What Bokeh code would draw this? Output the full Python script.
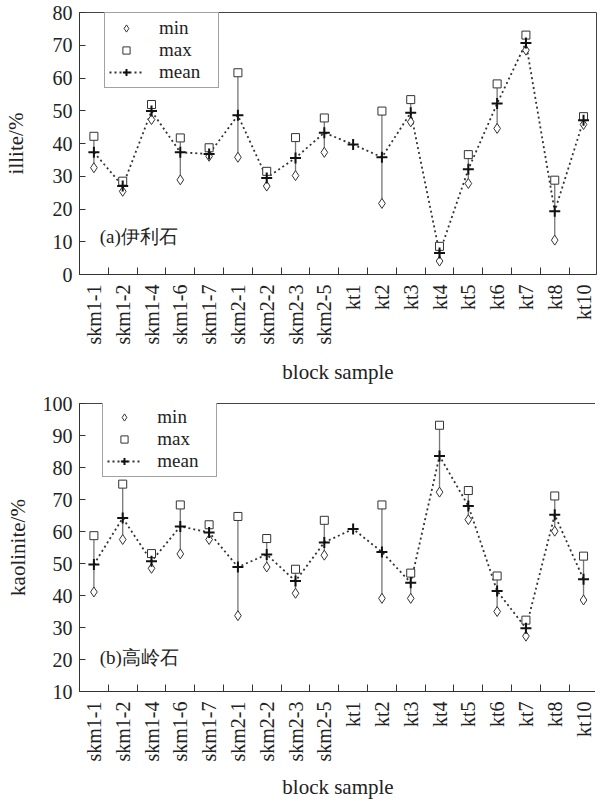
import math
from bokeh.plotting import figure
from bokeh.models import FixedTicker, Legend, LegendItem, Label, Range1d, ColumnDataSource
from bokeh.layouts import column
from bokeh.embed import file_html
from bokeh.resources import INLINE

NAN = float("nan")

samples = ["skm1-1", "skm1-2", "skm1-4", "skm1-6", "skm1-7", "skm2-1", "skm2-2", "skm2-3",
           "skm2-5", "kt1", "kt2", "kt3", "kt4", "kt5", "kt6", "kt7", "kt8", "kt10"]

illite_min = [32.6, 25.4, 47.3, 28.9, 36.1, 35.8, 27.0, 30.2, 37.3, NAN, 21.7, 46.6, 4.1, 27.8, 44.6, 68.5, 10.5, 45.8]
illite_max = [42.2, 28.5, 51.9, 41.7, 38.7, 61.6, 31.5, 41.8, 47.8, NAN, 49.9, 53.4, 8.6, 36.6, 58.2, 73.1, 28.8, 48.2]
illite_mean = [37.3, 27.0, 49.9, 37.3, 36.8, 48.6, 29.5, 35.6, 43.3, 39.7, 35.8, 49.4, 6.6, 32.1, 52.2, 70.7, 19.3, 47.1]

kaol_min = [41.1, 57.5, 48.5, 53.0, 57.5, 33.7, 48.9, 40.7, 52.6, NAN, 39.1, 39.1, 72.3, 63.7, 35.0, 27.3, 60.1, 38.6]
kaol_max = [58.7, 74.8, 53.1, 68.3, 62.1, 64.7, 57.8, 48.2, 63.5, NAN, 68.3, 47.0, 93.2, 72.8, 46.1, 32.3, 71.1, 52.3]
kaol_mean = [49.7, 64.2, 50.7, 61.6, 59.7, 48.9, 52.8, 44.5, 56.6, 60.8, 53.6, 44.0, 83.6, 68.0, 41.4, 29.8, 65.2, 45.1]

illite_ticks = list(range(0, 81, 10))
kaol_ticks = list(range(10, 101, 10))

FONT = "'Liberation Serif', 'Times New Roman', serif"
INK = "#222222"


def panel(mins, maxs, means, ymin, ymax, yticks, ylabel, tag, frame_h, top_border,
          y_title_standoff, x_label_standoff, x_title_standoff, legend_y, tag_y):
    n = len(samples)
    xs = list(range(1, n + 1))
    src = ColumnDataSource(dict(x=xs, lo=mins, hi=maxs, mean=means))
    p = figure(frame_width=517, frame_height=frame_h,
               x_range=Range1d(0.5, n + 0.45), y_range=Range1d(ymin, ymax),
               output_backend="svg", toolbar_location=None,
               min_border_left=73, min_border_right=1, min_border_top=top_border,
               min_border_bottom=5)
    p.xgrid.visible = False
    p.ygrid.visible = False
    p.outline_line_color = "#444444"
    p.background_fill_color = "white"
    p.border_fill_color = "white"

    seg = p.segment(x0="x", y0="lo", x1="x", y1="hi", source=src,
                    line_color="#777777", line_width=1.3)
    ln = p.line("x", "mean", source=src, line_color="#333333", line_width=1.8, line_dash="2 3")
    mn = p.scatter("x", "lo", source=src, marker="diamond", size=10,
                   fill_color="white", line_color="#333333", line_width=1)
    mx = p.scatter("x", "hi", source=src, marker="square", size=8,
                   fill_color="white", line_color="#333333", line_width=1)
    pl = p.scatter("x", "mean", source=src, marker="cross", size=11,
                   line_color="#111111", line_width=2)

    xa = p.xaxis[0]
    xa.ticker = FixedTicker(ticks=xs, minor_ticks=[i + 0.5 for i in range(1, n)])
    xa.major_label_overrides = {i + 1: s for i, s in enumerate(samples)}
    xa.major_label_orientation = math.pi / 2
    xa.major_tick_in = 0
    xa.major_tick_out = 0
    xa.minor_tick_in = 7
    xa.minor_tick_out = 0
    xa.minor_tick_line_color = "#333333"
    xa.axis_line_color = "#333333"
    xa.major_label_text_font = FONT
    xa.major_label_text_font_size = "20px"
    xa.major_label_text_color = INK
    xa.major_label_standoff = x_label_standoff
    xa.axis_label = "block sample"
    xa.axis_label_text_font = FONT
    xa.axis_label_text_font_style = "normal"
    xa.axis_label_text_font_size = "21px"
    xa.axis_label_text_color = INK
    xa.axis_label_standoff = x_title_standoff

    ya = p.yaxis[0]
    ya.ticker = FixedTicker(ticks=yticks)
    ya.major_tick_in = 6
    ya.major_tick_out = 0
    ya.minor_tick_in = 0
    ya.minor_tick_out = 0
    ya.major_tick_line_color = "#333333"
    ya.axis_line_color = "#333333"
    ya.major_label_text_font = FONT
    ya.major_label_text_font_size = "20px"
    ya.major_label_text_color = INK
    ya.major_label_standoff = 7
    ya.axis_label = ylabel
    ya.axis_label_text_font = FONT
    ya.axis_label_text_font_style = "normal"
    ya.axis_label_text_font_size = "21px"
    ya.axis_label_text_color = INK
    ya.axis_label_standoff = y_title_standoff

    legend = Legend(items=[LegendItem(label="min", renderers=[mn]),
                           LegendItem(label="max", renderers=[mx]),
                           LegendItem(label="mean", renderers=[ln, pl])],
                    location=(25, legend_y), orientation="vertical",
                    label_text_font=FONT, label_text_font_size="19px",
                    label_text_color=INK, label_standoff=16, label_width=55,
                    glyph_width=34, glyph_height=18, label_height=18,
                    spacing=0, padding=4, margin=0,
                    border_line_color="#444444", border_line_width=1,
                    background_fill_color="white", background_fill_alpha=1.0)
    p.add_layout(legend, "center")

    p.add_layout(Label(x=1.2, y=tag_y, text=tag, text_baseline="middle",
                       text_font=FONT, text_font_size="19px", text_color=INK))
    return p


p1 = panel(illite_min, illite_max, illite_mean, 0, 80, illite_ticks, "illite/%",
           "(a)伊利石", 262, 12, 22, 10, 12, 186, 11.6)
p2 = panel(kaol_min, kaol_max, kaol_mean, 10, 100, kaol_ticks, "kaolinite/%",
           "(b)高岭石", 288, 17, 10, 10, 10, 214, 20.5)

layout = column(p1, p2, spacing=0)
open("out.html", "w").write(file_html(layout, INLINE))
